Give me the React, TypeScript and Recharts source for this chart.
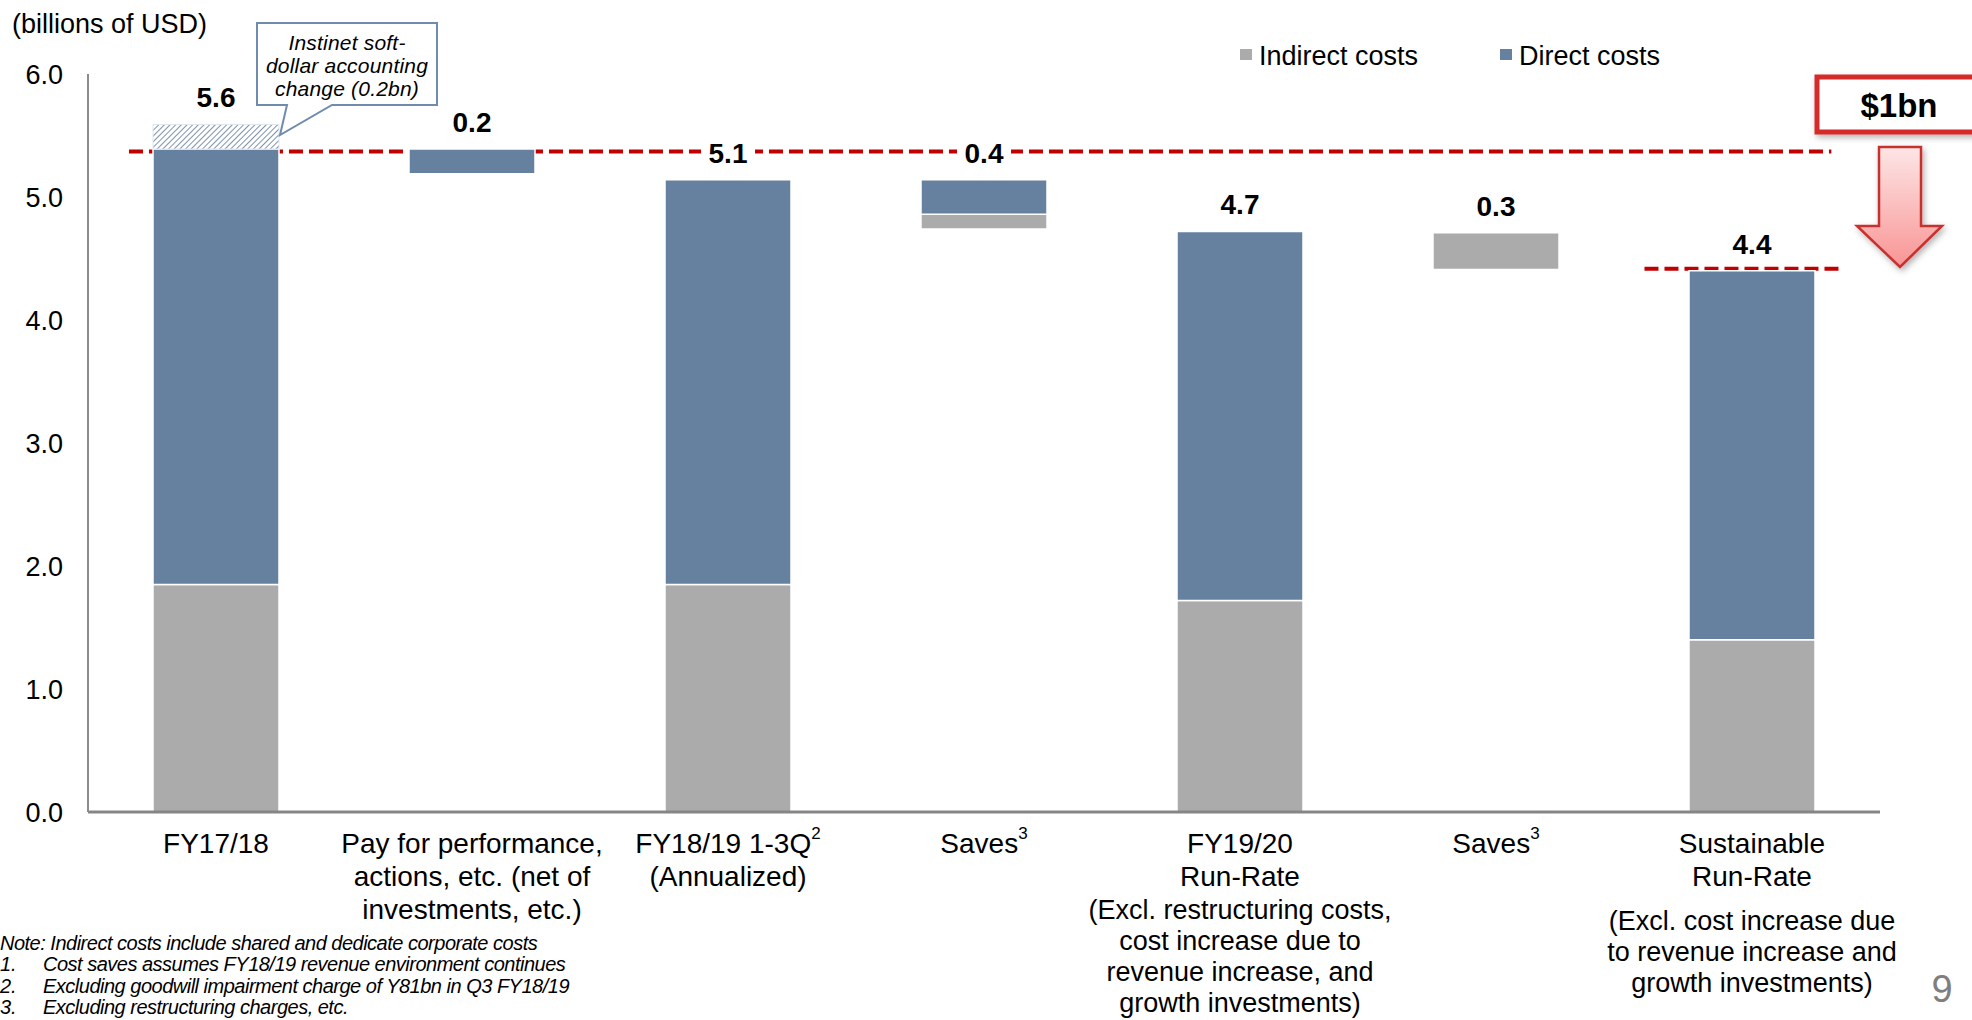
import React from 'react';
import { BarChart, Bar, XAxis, YAxis, CartesianGrid, LabelList } from 'recharts';

// Cost bridge, billions of USD
const categories = [
  'FY17/18',
  'Pay for performance',
  'FY18/19 1-3Q',
  'Saves FY18/19',
  'FY19/20 Run-Rate',
  'Saves FY19/20',
  'Sustainable Run-Rate',
];
// invisible lift for the floating steps
const floatBase = [0, 5.19, 0, 4.74, 0, 4.41, 0];
const indirectCosts = [1.85, 0, 1.85, 0.12, 1.72, 0.3, 1.4];
const directCosts = [3.54, 0.2, 3.29, 0.28, 3.0, 0, 3.0];
const softDollarChange = [0.2, 0, 0, 0, 0, 0, 0];

const yTicks = [0, 1, 2, 3, 4, 5, 6];

const tickLines = [
  ['FY17/18'],
  ['Pay for performance,', 'actions, etc. (net of', 'investments, etc.)'],
  ['FY18/19 1-3Q', '(Annualized)'],
  ['Saves'],
  ['FY19/20', 'Run-Rate'],
  ['Saves'],
  ['Sustainable', 'Run-Rate'],
];
const tickSup = ['', '', '2', '3', '', '3', ''];
const tickNotes = [
  [],
  [],
  [],
  [],
  ['(Excl. restructuring costs,', 'cost increase due to', 'revenue increase, and', 'growth investments)'],
  [],
  ['(Excl. cost increase due', 'to revenue increase and', 'growth investments)'],
];
const noteGap = [0, 0, 0, 0, 33, 0, 44];

const legendItems = [
  { name: 'Indirect costs', color: '#ababab' },
  { name: 'Direct costs', color: '#66809f' },
];

const calloutLines = ['Instinet soft-', 'dollar accounting', 'change (0.2bn)'];

const footnoteNumbers = ['1.', '2.', '3.'];
const footnotes = [
  'Cost saves assumes FY18/19 revenue environment  continues',
  'Excluding goodwill impairment charge of Y81bn in Q3 FY18/19',
  'Excluding restructuring charges, etc.',
];

// dashed level lines: FY17/18 cost base and the sustainable target,
// each drawn over a stretch of category bands (0..7)
const levelValues = [
  indirectCosts[0] + directCosts[0],
  indirectCosts[6] + directCosts[6],
];
const levelSpans = [
  [0.16, 6.81],
  [6.08, 6.85],
];
const levelNudge = [2.5, -2];
const BAND_COUNT = categories.length;

const rows = categories.map((name, i) => {
  const total = indirectCosts[i] + directCosts[i] + softDollarChange[i];
  // the value label sits on the highest non-empty segment
  const top = softDollarChange[i] > 0 ? 'soft' : directCosts[i] > 0 ? 'direct' : 'indirect';
  return {
    name,
    base: floatBase[i],
    indirect: indirectCosts[i],
    direct: directCosts[i],
    soft: softDollarChange[i],
    indirectLabel: top === 'indirect' ? total : null,
    directLabel: top === 'direct' ? total : null,
    softLabel: top === 'soft' ? total : null,
  };
});

const FONT = "'Liberation Sans', Arial, sans-serif";
const INDIRECT = '#ababab';
const DIRECT = '#66809f';
const RED = '#c00000';

const CategoryTick = (props: any) => {
  const { x, y, payload } = props;
  const i = typeof props.index === 'number' ? props.index : categories.indexOf(payload.value);
  const main = tickLines[i] || [];
  const notes = tickNotes[i] || [];
  const top = y + 41;
  const step = 33;
  const notesTop = top + (main.length - 1) * step + noteGap[i];
  return (
    <g>
      {main.map((line, k) => (
        <text key={k} x={x} y={top + k * step} textAnchor="middle" fontSize={28} fill="#000">
          {line}
          {k === 0 && tickSup[i] ? (
            <tspan fontSize={17} dy={-14}>
              {tickSup[i]}
            </tspan>
          ) : null}
        </text>
      ))}
      {notes.map((line, k) => (
        <text key={'n' + k} x={x} y={notesTop + k * 31} textAnchor="middle" fontSize={27} fill="#000">
          {line}
        </text>
      ))}
    </g>
  );
};

const TotalLabel = (props: any) => {
  const box = props.viewBox && typeof props.viewBox.x === 'number' ? props.viewBox : props;
  const { x, y, width } = box;
  if (props.value == null || x == null) return null;
  const text = Number(props.value).toFixed(1);
  const cx = x + width / 2;
  const baseline = y - 17;
  return (
    <g>
      <rect x={cx - 27} y={baseline - 25} width={54} height={30} fill="#fff" />
      <text x={cx} y={baseline} textAnchor="middle" fontSize={28} fontWeight="bold" fill="#000">
        {text}
      </text>
    </g>
  );
};

// grid lines sit beneath the bars, so the dashed levels are drawn as grid rows
const LevelLine = (props: any) => {
  const { x1, x2, y1, index } = props;
  const span = levelSpans[index];
  if (!span) return null;
  const w = x2 - x1;
  const y = y1 + levelNudge[index];
  return (
    <line
      key={'level-' + index}
      x1={x1 + (w * span[0]) / BAND_COUNT}
      x2={x1 + (w * span[1]) / BAND_COUNT}
      y1={y}
      y2={y}
      stroke={RED}
      strokeWidth={4}
      strokeDasharray="14 6"
    />
  );
};

const Annotations = () => (
  <svg
    width={1972}
    height={1020}
    style={{ position: 'absolute', left: 0, top: 0, pointerEvents: 'none', fontFamily: FONT }}
  >
    <defs>
      <linearGradient id="arrowFill" x1="0" y1="0" x2="0" y2="1">
        <stop offset="0%" stopColor="#fde6e6" />
        <stop offset="100%" stopColor="#f99494" />
      </linearGradient>
      <filter id="softShadow" x="-30%" y="-30%" width="160%" height="160%">
        <feDropShadow dx="2" dy="3" stdDeviation="3" floodColor="#000" floodOpacity="0.3" />
      </filter>
    </defs>

    <text x={12} y={33} fontSize={27} fill="#000">
      (billions of USD)
    </text>

    {/* legend */}
    {legendItems.map((item, i) => {
      const lx = i === 0 ? 1240 : 1500;
      return (
        <g key={item.name}>
          <rect x={lx} y={49} width={12} height={11} fill={item.color} />
          <text x={lx + 19} y={65} fontSize={27} fill="#000">
            {item.name}
          </text>
        </g>
      );
    })}

    {/* callout for the soft-dollar change */}
    <path
      d="M257,23 L437,23 L437,105 L332,105 L280,135 L287,105 L257,105 Z"
      fill="#fff"
      stroke="#6f8cae"
      strokeWidth={2}
    />
    {calloutLines.map((line, k) => (
      <text
        key={k}
        x={347}
        y={50 + k * 23}
        textAnchor="middle"
        fontSize={21}
        fontStyle="italic"
        letterSpacing={0.2}
        fill="#000"
      >
        {line}
      </text>
    ))}

    {/* $1bn box and down arrow */}
    <rect x={1817} y={77} width={200} height={55} fill="#fff" stroke="#d42a2a" strokeWidth={5} filter="url(#softShadow)" />
    <text x={1899} y={117} textAnchor="middle" fontSize={33} fontWeight="bold" fill="#000">
      $1bn
    </text>
    <polygon
      points="1879,147 1921,147 1921,226 1942,226 1900,267 1857,226 1879,226"
      fill="url(#arrowFill)"
      stroke="#c8302f"
      strokeWidth={2.5}
      filter="url(#softShadow)"
    />

    {/* footnotes */}
    <text x={0} y={950} fontSize={20} fontStyle="italic" letterSpacing={-0.5} fill="#000">
      Note: Indirect costs include shared and dedicate corporate costs
    </text>
    {footnotes.map((line, k) => (
      <g key={k}>
        <text x={0} y={971 + k * 21.5} fontSize={20} fontStyle="italic" fill="#000">
          {footnoteNumbers[k]}
        </text>
        <text x={43} y={971 + k * 21.5} fontSize={20} fontStyle="italic" letterSpacing={-0.5} fill="#000">
          {line}
        </text>
      </g>
    ))}

    <text x={1942} y={1002} textAnchor="middle" fontSize={38} fill="#7f7f7f">
      9
    </text>
  </svg>
);

const App: React.FC = () => {
  return (
    <div
      style={{
        position: 'absolute',
        left: 0,
        top: 0,
        width: 1972,
        height: 1020,
        background: '#fff',
        fontFamily: FONT,
        overflow: 'hidden',
      }}
    >
      <svg width={0} height={0} style={{ position: 'absolute' }}>
        <defs>
          <pattern id="softHatch" patternUnits="userSpaceOnUse" width={4} height={4} patternTransform="rotate(45)">
            <rect width={4} height={4} fill="#fff" />
            <line x1={0} y1={0} x2={0} y2={4} stroke="#5d7898" strokeWidth={1.6} />
          </pattern>
        </defs>
      </svg>

      <BarChart width={1972} height={1020} data={rows} margin={{ top: 74, right: 92, bottom: 0, left: 0 }}>
        <CartesianGrid vertical={false} horizontalValues={levelValues} horizontal={LevelLine} />
        <XAxis
          dataKey="name"
          type="category"
          height={208}
          axisLine={{ stroke: '#858585', strokeWidth: 3 }}
          tickLine={false}
          tickSize={0}
          tickMargin={0}
          interval={0}
          tick={<CategoryTick />}
        />
        <YAxis
          width={88}
          domain={[0, 6]}
          ticks={yTicks}
          interval={0}
          tickFormatter={(v: number) => v.toFixed(1)}
          axisLine={{ stroke: '#8c8c8c', strokeWidth: 2 }}
          tickLine={false}
          tickSize={0}
          tickMargin={25}
          tick={{ fill: '#000', fontSize: 27 }}
        />
        <Bar dataKey="base" stackId="cost" fill="transparent" barSize={126} isAnimationActive={false} />
        <Bar
          dataKey="indirect"
          stackId="cost"
          fill={INDIRECT}
          stroke="#fff"
          strokeWidth={1.5}
          barSize={126}
          isAnimationActive={false}
        >
          <LabelList dataKey="indirectLabel" content={<TotalLabel />} />
        </Bar>
        <Bar
          dataKey="direct"
          stackId="cost"
          fill={DIRECT}
          stroke="#fff"
          strokeWidth={1.5}
          barSize={126}
          isAnimationActive={false}
        >
          <LabelList dataKey="directLabel" content={<TotalLabel />} />
        </Bar>
        <Bar
          dataKey="soft"
          stackId="cost"
          fill="url(#softHatch)"
          stroke="#dfe5ee"
          strokeWidth={1}
          barSize={126}
          isAnimationActive={false}
        >
          <LabelList dataKey="softLabel" content={<TotalLabel />} />
        </Bar>
      </BarChart>

      <Annotations />
    </div>
  );
};

export default App;
